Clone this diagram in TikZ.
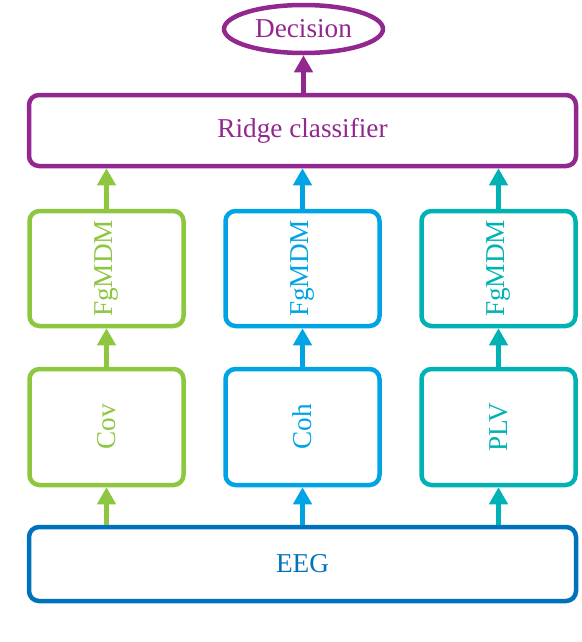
\documentclass[tikz,border=0pt]{standalone}
\usepackage{fontspec}
\setmainfont{Liberation Serif}
\usepackage{tikz}
\usetikzlibrary{shapes.geometric,arrows.meta}

\definecolor{cPurple}{RGB}{146,39,143}
\definecolor{cGreen}{RGB}{141,198,63}
\definecolor{cBlue}{RGB}{0,164,228}
\definecolor{cTeal}{RGB}{0,178,180}
\definecolor{cDark}{RGB}{0,114,188}

\begin{document}
\begin{tikzpicture}[font=\fontsize{15.5}{18}\selectfont,blk/.style={shape=rectangle,rounded corners=0.2cm,line width=0.09cm,inner sep=0pt},vblk/.style={blk,minimum width=3.08cm,minimum height=2.3cm},wblk/.style={blk,minimum width=10.94cm},arr/.style={line width=0.09cm,-{Triangle[length=0.34cm,width=0.36cm]}}]
\def\dxa{3.92};
\def\xm{6.05};
\useasboundingbox (0,0) rectangle (11.64,-12.84);

\node[shape=ellipse,draw=cPurple,text=cPurple,line width=0.09cm,inner sep=0pt,minimum width=3.18cm,minimum height=0.96cm] (dec) at (\xm+0.02,-0.58) {Decision};
\node[wblk,draw=cPurple,text=cPurple,minimum height=1.42cm] (ridge) at (\xm,-2.61) {Ridge classifier};

\node[vblk,draw=cGreen,text=cGreen] (fgA) at (\xm-\dxa,-5.37) {\rotatebox{90}{FgMDM}};
\node[vblk,draw=cBlue,text=cBlue] (fgB) at (\xm,-5.37) {\rotatebox{90}{FgMDM}};
\node[vblk,draw=cTeal,text=cTeal] (fgC) at (\xm+\dxa,-5.37) {\rotatebox{90}{FgMDM}};

\node[vblk,draw=cGreen,text=cGreen,minimum height=2.32cm] (cov) at (\xm-\dxa,-8.54) {\rotatebox{90}{Cov}};
\node[vblk,draw=cBlue,text=cBlue,minimum height=2.32cm] (coh) at (\xm,-8.54) {\rotatebox{90}{Coh}};
\node[vblk,draw=cTeal,text=cTeal,minimum height=2.32cm] (plv) at (\xm+\dxa,-8.54) {\rotatebox{90}{PLV}};

\node[wblk,draw=cDark,text=cDark,minimum height=1.48cm] (eeg) at (\xm,-11.28) {EEG};

% arrows
\draw[arr,cPurple] (ridge.north -| dec.south) -- (dec.south);
\draw[arr,cGreen] (cov.south |- eeg.north) -- (cov.south);
\draw[arr,cBlue] (coh.south |- eeg.north) -- (coh.south);
\draw[arr,cTeal] (plv.south |- eeg.north) -- (plv.south);
\draw[arr,cGreen] (cov.north) -- (fgA.south);
\draw[arr,cBlue] (coh.north) -- (fgB.south);
\draw[arr,cTeal] (plv.north) -- (fgC.south);
\draw[arr,cGreen] (fgA.north) -- (fgA.north |- ridge.south);
\draw[arr,cBlue] (fgB.north) -- (fgB.north |- ridge.south);
\draw[arr,cTeal] (fgC.north) -- (fgC.north |- ridge.south);
\end{tikzpicture}
\end{document}
